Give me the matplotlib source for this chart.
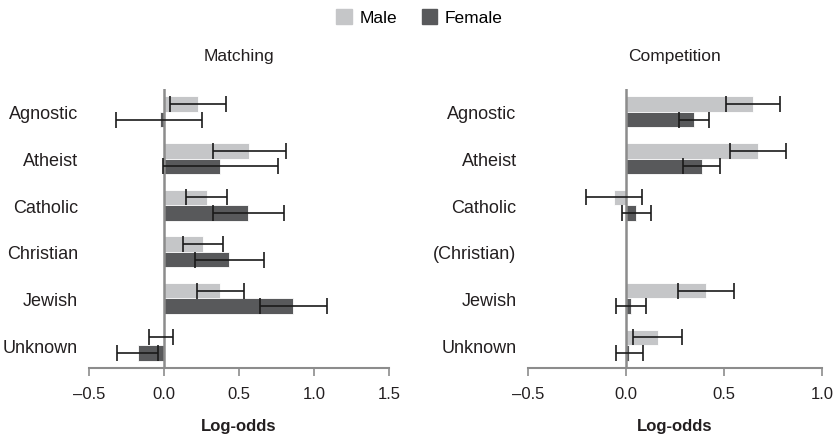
import numpy as np
import matplotlib
matplotlib.use("Agg")
import matplotlib.pyplot as plt
from matplotlib.patches import Patch

plt.rcParams["font.family"] = ["Liberation Sans", "DejaVu Sans"]

categories = ["Agnostic", "Atheist", "Catholic", "Christian", "Jewish", "Unknown"]
comp_labels = ["Agnostic", "Atheist", "Catholic", "(Christian)", "Jewish", "Unknown"]

# Matching: log-odds with 95% interval bounds
match_male = [0.225, 0.567, 0.284, 0.258, 0.375, -0.01]
match_male_lo = [0.04, 0.325, 0.149, 0.124, 0.22, -0.098]
match_male_hi = [0.41, 0.81, 0.42, 0.393, 0.535, 0.062]
match_female = [-0.03, 0.375, 0.562, 0.433, 0.862, -0.173]
match_female_lo = [-0.32, -0.01, 0.325, 0.204, 0.642, -0.311]
match_female_hi = [0.255, 0.762, 0.80, 0.664, 1.085, -0.04]

# Competition: no Christian estimate
comp_male = [0.646, 0.672, -0.058, np.nan, 0.409, 0.163]
comp_male_lo = [0.509, 0.532, -0.205, np.nan, 0.268, 0.039]
comp_male_hi = [0.787, 0.816, 0.083, np.nan, 0.55, 0.288]
comp_female = [0.348, 0.387, 0.054, np.nan, 0.027, 0.017]
comp_female_lo = [0.273, 0.293, -0.02, np.nan, -0.051, -0.048]
comp_female_hi = [0.422, 0.48, 0.127, np.nan, 0.105, 0.085]

MALE = "#c5c6c8"
FEMALE = "#58595b"
AXIS = "#8c8c8c"
TEXT = "#231f20"
BAR_H = 0.33


def panel(ax, title, labels, male, mlo, mhi, female, flo, fhi, xlim, xticks):
    y = np.arange(len(labels))
    for vals, lo, hi, off, color in [(male, mlo, mhi, -BAR_H / 2, MALE),
                                     (female, flo, fhi, BAR_H / 2, FEMALE)]:
        v = np.asarray(vals, float)
        lo = np.asarray(lo, float)
        hi = np.asarray(hi, float)
        ok = ~np.isnan(v)
        ax.barh(y[ok] + off, v[ok], height=BAR_H, color=color, edgecolor="white",
                linewidth=0.6, zorder=2)
        ax.errorbar((lo[ok] + hi[ok]) / 2, y[ok] + off, xerr=(hi[ok] - lo[ok]) / 2,
                    fmt="none", ecolor="#1a1a1a", elinewidth=1.2, capsize=5.5,
                    capthick=1.2, zorder=4)
    ax.axvline(0, color=AXIS, lw=1.8, zorder=3)
    ax.set_xlim(*xlim)
    ax.set_ylim(len(labels) - 0.51, -0.49)
    ax.set_yticks(y)
    ax.set_yticklabels(labels, fontsize=13, color=TEXT)
    ax.tick_params(axis="y", length=0, pad=8)
    ax.set_xticks(xticks)
    ax.set_xticklabels([f"{t:.1f}".replace("-", "\u2013") for t in xticks],
                       fontsize=12, color=TEXT)
    ax.tick_params(axis="x", length=6, width=1.2, color=AXIS, pad=7)
    for s in ["top", "right", "left"]:
        ax.spines[s].set_visible(False)
    ax.spines["bottom"].set_color(AXIS)
    ax.spines["bottom"].set_linewidth(1.5)
    ax.set_xlabel("Log-odds", fontsize=12, fontweight="bold", color=TEXT, labelpad=12)
    ax.set_title(title, fontsize=12.5, color=TEXT, pad=21)


fig = plt.figure(figsize=(8.39, 4.35), dpi=100)
ax1 = fig.add_axes([0.1061, 0.1517, 0.3576, 0.6414])
ax2 = fig.add_axes([0.629, 0.1517, 0.3508, 0.6414])

panel(ax1, "Matching", categories, match_male, match_male_lo, match_male_hi,
      match_female, match_female_lo, match_female_hi, (-0.5, 1.5), [-0.5, 0, 0.5, 1.0, 1.5])
panel(ax2, "Competition", comp_labels, comp_male, comp_male_lo, comp_male_hi,
      comp_female, comp_female_lo, comp_female_hi, (-0.5, 1.0), [-0.5, 0, 0.5, 1.0])

handles = [Patch(color=MALE, label="Male"), Patch(color=FEMALE, label="Female")]
fig.legend(handles=handles, loc="center", bbox_to_anchor=(0.5, 0.958), ncol=2,
           frameon=False, fontsize=12.5, handlelength=0.9, handleheight=0.9,
           columnspacing=1.4, handletextpad=0.45)

fig.savefig("out.png", dpi=100)
